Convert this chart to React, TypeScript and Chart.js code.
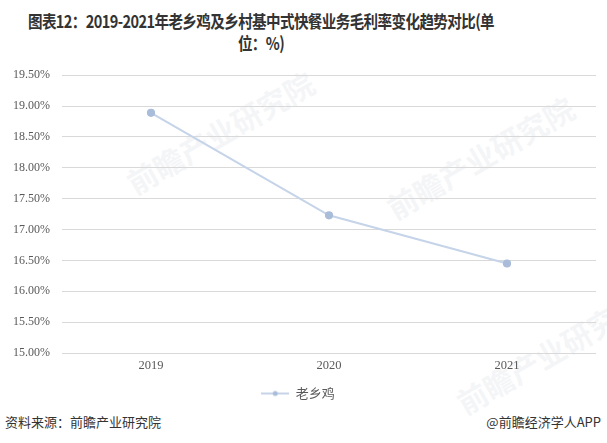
import React, { useEffect, useRef } from "react";
import { Chart, registerables } from "chart.js";

Chart.register(...registerables);

const categories = ["2019", "2020", "2021"];
const seriesName = "老乡鸡";
const values = [18.89, 17.23, 16.45];
const yMin = 15;
const yMax = 19.5;
const yStep = 0.5;

const titleLine1 = "图表12：2019-2021年老乡鸡及乡村基中式快餐业务毛利率变化趋势对比(单";
const titleLine2 = "位：%)";
const sourceText = "资料来源：前瞻产业研究院";
const creditText = "@前瞻经济学人APP";

function makeLegendIcon(): HTMLCanvasElement {
  const c = document.createElement("canvas");
  c.width = 28;
  c.height = 8;
  const ctx = c.getContext("2d")!;
  ctx.strokeStyle = "#c6d4e9";
  ctx.lineWidth = 2;
  ctx.beginPath();
  ctx.moveTo(0, 4);
  ctx.lineTo(28, 4);
  ctx.stroke();
  ctx.fillStyle = "#a9bcd9";
  ctx.beginPath();
  ctx.arc(14, 4, 2.5, 0, Math.PI * 2);
  ctx.fill();
  return c;
}

export default function App() {
  const ref = useRef<HTMLCanvasElement>(null);

  useEffect(() => {
    if (!ref.current) return;
    const icon = makeLegendIcon();
    const chart = new Chart(ref.current, {
      type: "line",
      data: {
        labels: categories,
        datasets: [
          {
            label: seriesName,
            data: values,
            borderColor: "#c6d4e9",
            backgroundColor: "#a9bcd9",
            pointBackgroundColor: "#a9bcd9",
            pointBorderColor: "#a9bcd9",
            pointRadius: 3,
            pointStyle: "circle",
            borderWidth: 2.2,
            tension: 0,
          },
        ],
      },
      options: {
        animation: false,
        responsive: false,
        maintainAspectRatio: false,
        layout: { padding: { top: 10, right: 11, left: 0, bottom: 0 } },
        plugins: {
          title: { display: false },
          tooltip: { enabled: false },
          legend: {
            position: "bottom",
            labels: {
              color: "#595959",
              font: { family: "'Noto Sans CJK SC', sans-serif", size: 13 },
              usePointStyle: true,
              pointStyleWidth: 28,
              padding: 10,
              generateLabels: () => [
                {
                  text: seriesName,
                  pointStyle: icon as any,
                  fillStyle: "#a9bcd9",
                  strokeStyle: "#c6d4e9",
                  lineWidth: 0,
                  hidden: false,
                  datasetIndex: 0,
                  fontColor: "#595959",
                } as any,
              ],
            },
          },
        },
        scales: {
          x: {
            offset: true,
            grid: { display: false, drawTicks: false, offset: true },
            border: { display: false },
            ticks: {
              color: "#595959",
              padding: 5,
              font: { family: "'Liberation Serif', serif", size: 12.5 },
            },
            afterFit: (s: any) => {
              s.height = 24;
            },
          },
          y: {
            min: yMin,
            max: yMax,
            grid: { color: "#d9d9d9", lineWidth: 1, drawTicks: false },
            border: { display: false },
            ticks: {
              stepSize: yStep,
              color: "#595959",
              padding: 12,
              font: { family: "'Liberation Serif', serif", size: 12 },
              callback: (v: any) => Number(v).toFixed(2) + "%",
            },
            afterFit: (s: any) => {
              s.width = 62;
            },
          },
        },
      },
    });
    return () => chart.destroy();
  }, []);

  const wm = {
    position: "absolute" as const,
    color: "rgba(215,220,228,0.28)",
    fontFamily: "'Noto Sans CJK SC', sans-serif",
    fontSize: 30,
    fontWeight: 700,
    transform: "rotate(-30deg)",
    whiteSpace: "nowrap" as const,
    pointerEvents: "none" as const,
  };

  return (
    <div
      style={{
        position: "fixed",
        left: 0,
        top: 0,
        width: 607,
        height: 443,
        background: "#fff",
        overflow: "hidden",
      }}
    >
      <div
        style={{
          position: "absolute",
          left: -139,
          top: 10,
          width: 800,
          textAlign: "center",
          fontFamily: "'Noto Sans CJK SC', sans-serif",
          fontWeight: 700,
          fontSize: 17.5,
          lineHeight: "22px",
          color: "#333333",
          letterSpacing: -0.7,
        }}
      >
        <div style={{ whiteSpace: "nowrap", transform: "scaleX(0.83)" }}>{titleLine1}</div>
        <div style={{ whiteSpace: "nowrap", transform: "scaleX(0.83)" }}>{titleLine2}</div>
      </div>
      <div style={{ ...wm, left: 115, top: 110 }}>前瞻产业研究院</div>
      <div style={{ ...wm, left: 375, top: 135 }}>前瞻产业研究院</div>
      <div style={{ ...wm, left: 445, top: 330 }}>前瞻产业研究院</div>
      <canvas
        ref={ref}
        width={607}
        height={354}
        style={{ position: "absolute", left: 0, top: 56, width: 607, height: 354 }}
      />
      <div
        style={{
          position: "absolute",
          left: 5,
          top: 412,
          fontFamily: "'Noto Sans CJK SC', sans-serif",
          fontSize: 13,
          color: "#333",
          whiteSpace: "nowrap",
        }}
      >
        {sourceText}
      </div>
      <div
        style={{
          position: "absolute",
          right: 6,
          top: 412,
          fontFamily: "'Noto Sans CJK SC', sans-serif",
          fontSize: 13,
          color: "#333",
          whiteSpace: "nowrap",
        }}
      >
        {creditText}
      </div>
    </div>
  );
}
